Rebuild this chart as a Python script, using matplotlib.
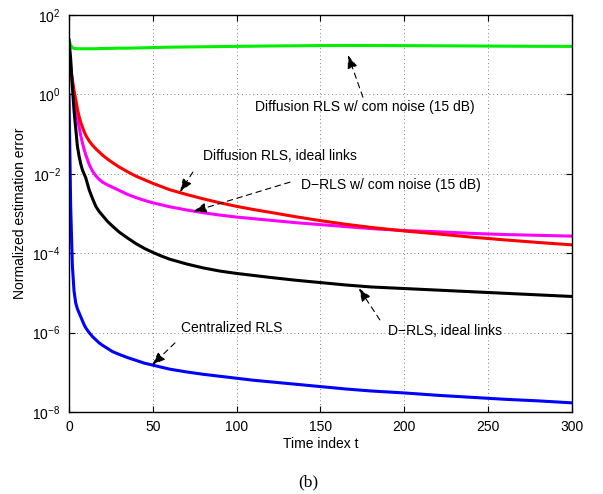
import numpy as np
import matplotlib
matplotlib.use('Agg')
import matplotlib.pyplot as plt

plt.rcParams['font.family'] = ['Liberation Sans', 'DejaVu Sans']
plt.rcParams['mathtext.default'] = 'regular'
plt.rcParams['font.size'] = 10

# sample time indices
t = [0, 1, 2, 3, 4, 5, 6, 7, 8, 9, 10, 12, 14, 16, 18, 20, 23, 26, 30, 35, 40, 45, 50, 55, 60,
     70, 80, 90, 100, 110, 120, 135, 150, 165, 180, 200, 220, 240, 260, 280, 300]

# log10 of normalized estimation error
diff_noise = [1.37, 1.24, 1.18, 1.16, 1.155, 1.15, 1.15, 1.15, 1.15, 1.15, 1.15, 1.15, 1.15, 1.15,
              1.155, 1.155, 1.16, 1.16, 1.165, 1.165, 1.17, 1.175, 1.18, 1.185, 1.19,
              1.195, 1.20, 1.205, 1.21, 1.215, 1.22, 1.225, 1.23, 1.232, 1.232, 1.228,
              1.225, 1.22, 1.215, 1.212, 1.21]
diff_ideal = [0.95, 0.62, 0.38, 0.10, -0.12, -0.36, -0.55, -0.70, -0.82, -0.93, -1.03, -1.17, -1.28,
              -1.37, -1.45, -1.53, -1.63, -1.72, -1.83, -1.95, -2.06, -2.15, -2.24, -2.32, -2.40,
              -2.52, -2.63, -2.73, -2.82, -2.90, -2.97, -3.08, -3.18, -3.27, -3.35, -3.44,
              -3.515, -3.595, -3.665, -3.73, -3.79]
drls_noise = [1.2, 0.7, 0.3, -0.02, -0.3, -0.58, -0.82, -1.03, -1.22, -1.38, -1.52, -1.76, -1.93,
              -2.05, -2.14, -2.21, -2.28, -2.34, -2.42, -2.52, -2.60, -2.67, -2.73, -2.78, -2.83,
              -2.91, -2.98, -3.04, -3.09, -3.13, -3.17, -3.23, -3.28, -3.33, -3.38, -3.43,
              -3.46, -3.50, -3.53, -3.55, -3.57]
drls_ideal = [1.37, 0.9, 0.2, -0.4, -0.85, -1.3, -1.55, -1.75, -1.9, -2.0, -2.1, -2.4, -2.62,
              -2.82, -2.95, -3.05, -3.2, -3.32, -3.47, -3.62, -3.76, -3.88, -3.98, -4.07, -4.15,
              -4.27, -4.37, -4.45, -4.51, -4.56, -4.61, -4.68, -4.74, -4.8, -4.85, -4.89,
              -4.93, -4.97, -5.01, -5.05, -5.09]
central = [0.0, -2.8, -4.3, -4.95, -5.25, -5.4, -5.5, -5.6, -5.7, -5.8, -5.88, -6.0, -6.1,
           -6.18, -6.26, -6.32, -6.4, -6.48, -6.55, -6.63, -6.7, -6.77, -6.82, -6.87, -6.92,
           -6.99, -7.05, -7.1, -7.15, -7.2, -7.24, -7.3, -7.36, -7.42, -7.47, -7.52,
           -7.58, -7.63, -7.68, -7.72, -7.77]

fig = plt.figure(figsize=(6.03, 4.94), dpi=100)
ax = fig.add_axes([0.1144, 0.166, 0.8342, 0.8036])

lw = 2.2
ax.semilogy(t, 10 ** np.array(diff_noise), color='#00ee00', lw=lw)
ax.semilogy(t, 10 ** np.array(drls_noise), color='#ff00ff', lw=lw)
ax.semilogy(t, 10 ** np.array(diff_ideal), color='#ff0000', lw=lw)
ax.semilogy(t, 10 ** np.array(drls_ideal), color='black', lw=lw)
ax.semilogy(t, 10 ** np.array(central), color='#0000ff', lw=lw)

ax.set_xlim(0, 300)
ax.set_ylim(1e-8, 1e2)
ax.set_xticks([0, 50, 100, 150, 200, 250, 300])
ax.set_yticks([1e-8, 1e-6, 1e-4, 1e-2, 1e0, 1e2])
ax.minorticks_off()
ax.tick_params(direction='in', top=True, right=True, length=4, labelsize=10, pad=6)
ax.grid(True, linestyle=(0, (1, 3.5)), color='0.35', linewidth=0.6)
for s in ax.spines.values():
    s.set_linewidth(1.0)

ax.set_xlabel('Time index t', fontsize=10, labelpad=2)
ax.set_ylabel('Normalized estimation error', fontsize=10, labelpad=4)

arrow = dict(arrowstyle='-|>,head_length=0.8,head_width=0.3', linestyle=(0, (5, 4)),
             color='black', lw=0.8, shrinkA=0, shrinkB=0)

def note(txt, tx, ty, tail, head):
    ax.text(tx, 10 ** ty, txt, ha='center', va='center', fontsize=10)
    ax.annotate('', xy=(head[0], 10 ** head[1]), xytext=(tail[0], 10 ** tail[1]),
                arrowprops=arrow)

note('Diffusion RLS w/ com noise (15 dB)', 176.5, -0.32, (175.3, -0.07), (166.4, 0.99))
note('Diffusion RLS, ideal links', 125.8, -1.55, (73.9, -1.955), (66.2, -2.46))
note('D\u2212RLS w/ com noise (15 dB)', 192.0, -2.28, (131.8, -2.21), (74.1, -2.95))
note('Centralized RLS', 97.2, -5.88, (63.2, -6.26), (49.5, -6.82))
note('D\u2212RLS, ideal links', 224.2, -5.96, (185.4, -5.68), (172.9, -4.88))

fig.text(308 / 603, 1 - 482 / 494, '(b)', ha='center', va='center',
         fontsize=12.5, family='Liberation Serif')

fig.savefig('out.png', dpi=100)
